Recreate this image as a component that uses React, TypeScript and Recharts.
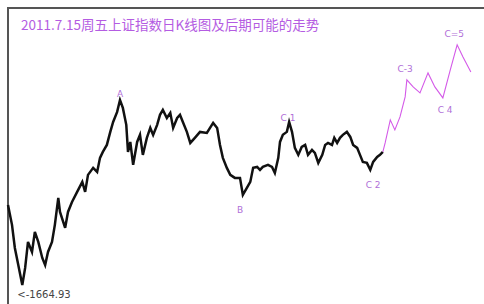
import React from 'react';
import { ComposedChart, Line, XAxis, YAxis, ReferenceDot } from 'recharts';

// trading-day index and closing level of the index
const candleDays = [
  0, 7, 12, 18, 25, 30, 35, 42, 47, 53,
  60, 65, 70, 77, 82, 88, 91, 100, 105, 112,
  121, 130, 135, 140, 149, 156, 161, 166, 173, 179,
  184, 191, 196, 201, 207, 210, 214, 219, 226, 231,
  236, 243, 249, 254, 261, 266, 271, 278, 284, 289,
  296, 301, 306, 313, 319, 327, 336, 348, 359, 366,
  371, 376, 383, 389, 397, 406, 411, 418, 424, 429,
  436, 441, 446, 455, 462, 467, 473, 476, 481, 488,
  492, 497, 502, 508, 514, 520, 525, 532, 537, 543,
  550, 555, 560, 567, 571, 576, 581, 586, 593, 599,
  604, 611, 616, 621, 628, 634, 639, 646, 651, 656,
];
const candleCloses = [
  2290, 2115, 1929, 1803, 1665, 1782, 1976, 1899, 2057, 1976,
  1854, 1803, 1899, 1976, 2115, 2355, 2227, 2090, 2227, 2317,
  2412, 2510, 2412, 2581, 2654, 2612, 2762, 2828, 2908, 3063,
  3187, 3317, 3478, 3370, 3150, 2828, 2943, 2686, 2943, 3027,
  2795, 2991, 3112, 3027, 3150, 3278, 3344, 3238, 3304, 3112,
  3238, 3278, 3187, 3063, 2931, 2991, 3063, 3051, 3175, 3112,
  2908, 2762, 2654, 2581, 2550, 2550, 2383, 2450, 2510, 2654,
  2664, 2633, 2664, 2686, 2664, 2601, 2762, 2943, 3027, 3063,
  3186, 3063, 2874, 2795, 2885, 2908, 2795, 2851, 2817, 2707,
  2795, 2908, 2931, 2908, 2991, 2931, 2991, 3027, 3063, 3002,
  2908, 2874, 2795, 2718, 2707, 2633, 2718, 2773, 2795, 2828,
];

// the hand-drawn forecast path after 7.15
const forecastDays = [660, 669, 677, 686, 695, 698, 709, 721, 735, 747, 761, 774, 786, 796, 810];
const forecastValues = [2931, 3213, 3087, 3251, 3521, 3768, 3664, 3578, 3874, 3664, 3507, 3921, 4332, 4130, 3890];

// wave labels
const waveLabels = ['A', 'B', 'C 1', 'C 2', 'C-3', 'C 4', 'C=5'];
const waveLabelDays = [196, 406, 490, 639, 695, 765, 781];
const waveLabelValues = [3564, 2245, 3238, 2480, 3937, 3344, 4526];

const TITLE = '2011.7.15周五上证指数日K线图及后期可能的走势';
const LOW_TEXT = '<-1664.93';
const LOW_DAY = 63;
const LOW_POS = 1606;

const data = [
  ...candleDays.map((day, i) => ({
    day,
    close: candleCloses[i],
    forecast: i === candleDays.length - 1 ? candleCloses[i] : undefined,
  })),
  ...forecastDays.map((day, i) => ({ day, forecast: forecastValues[i] })),
];

const App = () => {
  return (
    <div style={{ position: 'absolute', left: 0, top: 0, width: 484, height: 304, background: '#fff', overflow: 'hidden' }}>
      <div
        style={{
          position: 'absolute', left: 7, top: 7, right: 0, bottom: 0,
          borderTop: '2px solid #555', borderLeft: '2px solid #555',
        }}
      />
      <ComposedChart
        width={484}
        height={304}
        data={data}
        margin={{ top: 20, right: 0, bottom: 4, left: 8 }}
        style={{ position: 'absolute', left: 0, top: 0 }}
      >
        <XAxis type="number" dataKey="day" domain={[0, 833]} hide />
        <YAxis scale="log" domain={[1568, 4783]} allowDataOverflow hide />
        <Line
          type="linear"
          dataKey="close"
          stroke="#111"
          strokeWidth={2.5}
          strokeLinejoin="miter"
          dot={false}
          isAnimationActive={false}
        />
        <Line
          type="linear"
          dataKey="forecast"
          stroke="#d45ae8"
          strokeWidth={1.1}
          dot={false}
          isAnimationActive={false}
        />
        {waveLabels.map((text, i) => (
          <ReferenceDot
            key={text}
            x={waveLabelDays[i]}
            y={waveLabelValues[i]}
            r={0}
            stroke="none"
            label={{ value: text, position: 'center', fill: '#b070d8', fontSize: 9, fontFamily: 'DejaVu Sans' }}
          />
        ))}
        <ReferenceDot
          x={LOW_DAY}
          y={LOW_POS}
          r={0}
          stroke="none"
          label={{ value: LOW_TEXT, position: 'center', fill: '#444', fontSize: 10, fontFamily: 'DejaVu Sans' }}
        />
      </ComposedChart>
      <div
        style={{
          position: 'absolute', left: 21, top: 16, lineHeight: '16px',
          fontSize: 13.5, color: '#b45ce2', fontFamily: '"Noto Sans CJK SC", sans-serif', whiteSpace: 'nowrap',
        }}
      >
        {TITLE}
      </div>
    </div>
  );
};

export default App;
